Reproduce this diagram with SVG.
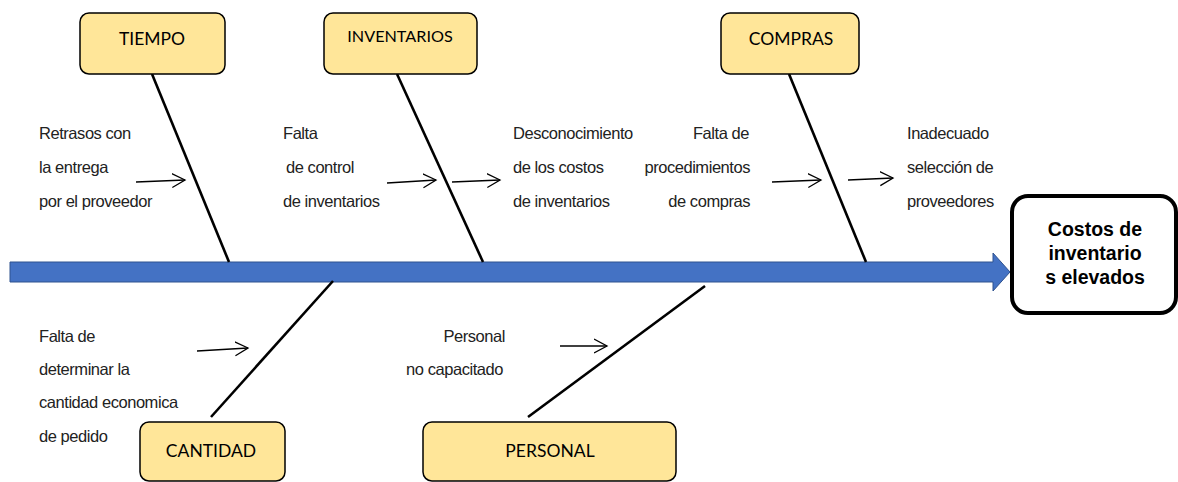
<svg xmlns="http://www.w3.org/2000/svg" width="1178" height="482" viewBox="0 0 1178 482">
<style>
.cat rect{fill:#FFE699;stroke:#000;stroke-width:1.5}
.cat text{font-family:Lato,"Open Sans",sans-serif;font-size:17.5px;fill:#000;text-anchor:middle}
.cause{font-family:"Liberation Sans",Arial,sans-serif;font-size:16.5px;fill:#222;letter-spacing:-0.45px}
.bone{stroke:#000;stroke-width:2.6;fill:none}
.sub{stroke:#000;stroke-width:1.3;fill:none;marker-end:url(#chev)}
.effect rect{fill:#fff;stroke:#000;stroke-width:4}
.effect text{font-family:"Liberation Sans",Arial,sans-serif;font-size:19.5px;font-weight:bold;fill:#000;text-anchor:middle}
</style>
<defs>
<marker id="chev" markerUnits="userSpaceOnUse" markerWidth="16" markerHeight="18" refX="13" refY="8" orient="auto" viewBox="0 0 16 18">
<path d="M0,1 L13,8 L0,15" fill="none" stroke="#000" stroke-width="1.3"/>
</marker>
</defs>
<g id="spine">
<polygon points="10,262 993,262 993,253 1010,272 993,291 993,282 10,282" fill="#4472C4" stroke="#2F528F" stroke-width="1"/>
</g>
<g id="connectors">
<line class="bone" x1="152" y1="74" x2="229" y2="262"/>
<line class="bone" x1="397" y1="74" x2="483" y2="262"/>
<line class="bone" x1="789" y1="74" x2="866" y2="262"/>
<line class="bone" x1="211" y1="417" x2="333" y2="281"/>
<line class="bone" x1="528" y1="417" x2="705" y2="286"/>
<line class="sub" x1="136" y1="182" x2="185" y2="180"/>
<line class="sub" x1="387" y1="183" x2="436" y2="180"/>
<line class="sub" x1="452" y1="182" x2="500" y2="180"/>
<line class="sub" x1="772" y1="182" x2="821" y2="180"/>
<line class="sub" x1="848" y1="180" x2="893" y2="178"/>
<line class="sub" x1="197" y1="351" x2="248" y2="348"/>
<line class="sub" x1="560" y1="346" x2="607" y2="346"/>
</g>
<g id="tiempo" class="cat"><rect x="80" y="13" width="145" height="61" rx="9"/><text x="152" y="45">TIEMPO</text></g>
<g id="inventarios" class="cat"><rect x="324" y="13" width="153" height="61" rx="9"/><text x="400" y="42" style="font-size:16.2px">INVENTARIOS</text></g>
<g id="compras" class="cat"><rect x="721" y="13" width="138" height="61" rx="9"/><text x="791" y="45">COMPRAS</text></g>
<g id="cantidad" class="cat"><rect x="140" y="422" width="145" height="59" rx="9"/><text x="211" y="457">CANTIDAD</text></g>
<g id="personal" class="cat"><rect x="423" y="422" width="253" height="59" rx="9"/><text x="550" y="457">PERSONAL</text></g>
<g id="effect" class="effect"><rect x="1012" y="196" width="164" height="117" rx="16"/>
<text x="1095" y="236">Costos de</text><text x="1095" y="260">inventario</text><text x="1095" y="284">s elevados</text></g>
<g id="causes">
<text class="cause" x="39" y="139">Retrasos con</text>
<text class="cause" x="39" y="173">la entrega</text>
<text class="cause" x="39" y="207">por el proveedor</text>
<text class="cause" x="283" y="139">Falta</text>
<text class="cause" x="286" y="173">de control</text>
<text class="cause" x="283" y="207">de inventarios</text>
<text class="cause" x="513" y="139">Desconocimiento</text>
<text class="cause" x="513" y="173">de los costos</text>
<text class="cause" x="513" y="207">de inventarios</text>
<text class="cause" x="749" y="139" text-anchor="end">Falta de</text>
<text class="cause" x="750" y="173" text-anchor="end">procedimientos</text>
<text class="cause" x="750" y="207" text-anchor="end">de compras</text>
<text class="cause" x="907" y="139">Inadecuado</text>
<text class="cause" x="907" y="173">selección de</text>
<text class="cause" x="907" y="207">proveedores</text>
<text class="cause" x="39" y="342">Falta de</text>
<text class="cause" x="39" y="375">determinar la</text>
<text class="cause" x="39" y="408">cantidad economica</text>
<text class="cause" x="39" y="442">de pedido</text>
<text class="cause" x="505" y="342" text-anchor="end">Personal</text>
<text class="cause" x="503" y="375" text-anchor="end">no capacitado</text>
</g>
</svg>
